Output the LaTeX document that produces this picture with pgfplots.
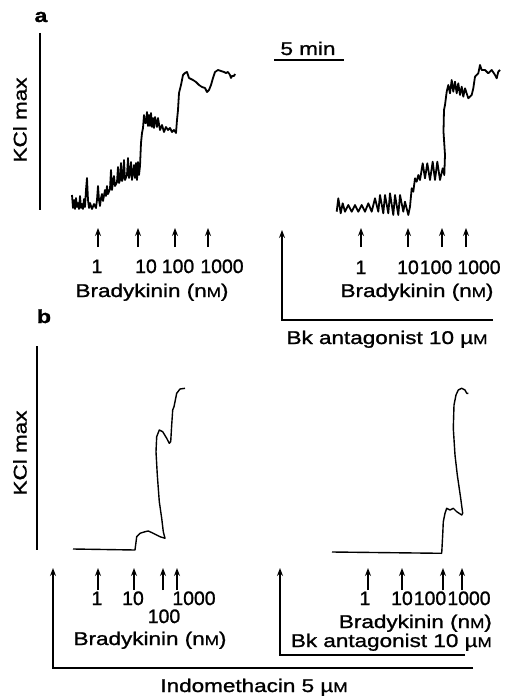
\documentclass[border=0pt]{standalone}
\usepackage{fontspec}
\setmainfont{Liberation Sans}[FakeStretch=1.22, FakeBold=1.2]
\newfontfamily\numfont{Liberation Sans}[FakeStretch=1.0, FakeBold=1.2]
\usepackage{pgfplots}
\pgfplotsset{compat=1.18}
\usetikzlibrary{arrows.meta}
\newcommand{\sm}[1]{{\fontsize{14}{14}\selectfont #1}}
\newcommand{\nM}{(n\sm{M})}
\newcommand{\uM}{\textmu\sm{M}}
\tikzset{
  trace/.style={black, line width=1.8pt, line join=round},
  traceb/.style={black, line width=1.4pt, line join=round},
  arr/.style={black, line width=1.5pt, -{Stealth[length=8pt,width=6pt]}},
  bar/.style={black, line width=1.7pt},
  lab/.style={font=\fontsize{18.5}{20}\selectfont, inner sep=0pt, anchor=base},
  num/.style={font=\fontsize{19.5}{20}\selectfont\numfont, inner sep=0pt, anchor=base},
  labb/.style={font=\fontsize{19}{20}\selectfont\bfseries, inner sep=0pt, anchor=base}}
\begin{document}
\begin{tikzpicture}
\begin{axis}[hide axis, scale only axis, width=510bp, height=697bp,
  xmin=0, xmax=510, ymin=0, ymax=697, y dir=reverse, clip=false]

% ---------------- panel a ----------------
\addplot[bar, no markers] coordinates {(40,33) (40,210)};
\addplot[bar, no markers] coordinates {(274,60) (344,60)};
% a left trace
\addplot[trace, no markers] coordinates {
(72,195)(73,208)(74,200)(75,209)(76,198)(77,207)(78,203)(79,209)(80,196)(81,208)(82,204)(83,209)(84,199)(85,207)(86,190)(87,178)(88,200)(89,208)(90,203)(92,209)(94,204)(96,208)(97,200)(98,186)(99,200)(100,206)(101,198)(102,194)(103,201)(105,190)(106,196)(107,186)(108,194)(110,189)(111,170)(112,190)(113,182)(114,176)(115,186)(117,182)(118,167)(119,183)(120,180)(121,163)(122,181)(123,178)(124,160)(125,180)(127,175)(128,158)(129,178)(130,174)(131,162)(132,180)(134,165)(135,178)(136,163)(137,180)(138,162)(139,175)(140,166)(141,143)(142,133)(143,128)(144,115)(145,123)(146,123)(147,112)(148,126)(149,115)(150,126)(151,113)(152,127)(153,118)(154,128)(155,117)(157,127)(158,118)(160,130)(162,125)(164,132)(166,127)(168,130)(170,128)(172,132)(174,130)(176,133)(177,120)(178,110)(179,93)(181,85)(183,75)(185,73)(187,72)(189,78)(191,79)(193,80)(196,82)(199,85)(202,87)(205,88)(207,92)(209,90)(211,85)(213,78)(215,72)(218,70)(221,71)(224,72)(226,73)(228,72)(230,75)(231,78)(232,76)(234,76)(235,74)};
% a right trace
\addplot[trace, no markers] coordinates {
(336.7,211.7)(338.3,198.3)(340.7,213.3)(342.7,203.3)(345,211.7)(348.3,205)(351.7,211.7)(355,205)(358.3,211.7)(361.7,205)(365,211.7)(368.3,203.3)(371.7,211.7)(375,198.3)(378.3,211.7)(380,195)(383.3,213.3)(385,195)(388.3,213.3)(390,193.3)(393.3,215)(395,195)(398.3,215)(400,195)(403.3,211.7)(405,201.7)(408.3,215)(410,206.7)(411.7,188.3)(413.3,191.7)(415,178.3)(416.7,181.7)(418.3,175)(420,180)(422.7,163.3)(425,178.3)(427.3,163.3)(430,180)(432.7,161.7)(435,180)(437.3,161.7)(440,180)(442.7,168.3)(444.3,175)(445,155)(443.5,131.7)(444,110)(445,105)(446.7,91.7)(448.3,85)(450,93.3)(451.7,80)(453.3,91.7)(455,81.7)(456.7,93.3)(458.3,83.3)(460,95)(461.7,86.7)(463.3,96.7)(465,88.3)(468.3,98.3)(471.7,95)(473.3,88.3)(475,76.7)(478.3,73.3)(480,65)(481.7,70)(485,70)(488.3,73.3)(491.7,70)(495,75)(496.7,78.3)(498.3,71.7)(500,70)};
% a arrows
\addplot[arr, no markers] coordinates {(98,247) (98,228)};
\addplot[arr, no markers] coordinates {(138,247) (138,228)};
\addplot[arr, no markers] coordinates {(175,247) (175,228)};
\addplot[arr, no markers] coordinates {(208,247) (208,228)};
\addplot[arr, no markers] coordinates {(493,320) (282,320) (282,230)};
\addplot[arr, no markers] coordinates {(361,247) (361,228)};
\addplot[arr, no markers] coordinates {(408,247) (408,228)};
\addplot[arr, no markers] coordinates {(442,247) (442,228)};
\addplot[arr, no markers] coordinates {(466,247) (466,228)};
% a labels
\node[labb] at (axis cs:41,22) {a};
\node[lab, rotate=90, anchor=center] at (axis cs:20,120) {KCl max};
\node[lab] at (axis cs:308,55) {5 min};
\node[num] at (axis cs:97,273) {1};
\node[num] at (axis cs:146,273) {10};
\node[num] at (axis cs:178,273) {100};
\node[num] at (axis cs:222,273) {1000};
\node[lab] at (axis cs:152,297) {Bradykinin \nM};
\node[num] at (axis cs:361,274) {1};
\node[num] at (axis cs:408,274) {10};
\node[num] at (axis cs:436,274) {100};
\node[num] at (axis cs:479,274) {1000};
\node[lab] at (axis cs:417,297) {Bradykinin \nM};
\node[lab] at (axis cs:387,344) {Bk antagonist 10 \uM};

% ---------------- panel b ----------------
\addplot[bar, no markers] coordinates {(37,346) (37,550)};
\addplot[traceb, no markers] coordinates {
(73,549)(135,550)(136.7,536.7)(140,533.3)(145,531.7)(148.3,531)(153.3,533.3)(160,536.7)(165,538.3)(163.3,531.7)(161.7,518.3)(159.3,501.7)(157.3,475)(156,451.7)(156.7,436.7)(159.3,430)(162.7,431.7)(166.7,438.3)(169.3,443.3)(170.7,441.7)(171.7,425)(172.7,410)(174,406.7)(175,401.7)(176.7,393.3)(180,389)(185,388.3)};
\addplot[traceb, no markers] coordinates {
(332,552)(441.7,553.3)(442.7,535)(443.3,521.7)(445,513.3)(446.7,508.3)(450,510)(453.3,508.3)(456.7,511.7)(461.7,515)(462.7,513.3)(460.7,498.3)(457.3,475)(455,455)(453.3,428.3)(454,405)(456,395)(458.3,390)(461.7,388.3)(465,390)(466.7,393.3)(468.3,393.3)};
% b arrows
\addplot[arr, no markers] coordinates {(473,668) (53,668) (53,568)};
\addplot[arr, no markers] coordinates {(98,590) (98,568)};
\addplot[arr, no markers] coordinates {(134,590) (134,568)};
\addplot[arr, no markers] coordinates {(163,590) (163,568)};
\addplot[arr, no markers] coordinates {(177,590) (177,568)};
\addplot[arr, no markers] coordinates {(465,655) (280,655) (280,568)};
\addplot[arr, no markers] coordinates {(368,590) (368,568)};
\addplot[arr, no markers] coordinates {(402,590) (402,568)};
\addplot[arr, no markers] coordinates {(443,590) (443,568)};
\addplot[arr, no markers] coordinates {(462,590) (462,568)};
% b labels
\node[labb] at (axis cs:44,323) {b};
\node[lab, rotate=90, anchor=center] at (axis cs:20,453) {KCl max};
\node[num] at (axis cs:97,605) {1};
\node[num] at (axis cs:133,605) {10};
\node[num] at (axis cs:194,605) {1000};
\node[num] at (axis cs:164,623) {100};
\node[lab] at (axis cs:150,645) {Bradykinin \nM};
\node[num] at (axis cs:365,605) {1};
\node[num] at (axis cs:402,605) {10};
\node[num] at (axis cs:430,605) {100};
\node[num] at (axis cs:469,605) {1000};
\node[lab, anchor=base east] at (axis cs:492,628) {Bradykinin \nM};
\node[lab, anchor=base east] at (axis cs:492,647) {Bk antagonist 10 \uM};
\node[lab] at (axis cs:254,692) {Indomethacin 5 \uM};
\end{axis}
\pgfresetboundingbox
\path[use as bounding box] (current axis.south west) rectangle (current axis.north east);
\end{tikzpicture}
\end{document}
